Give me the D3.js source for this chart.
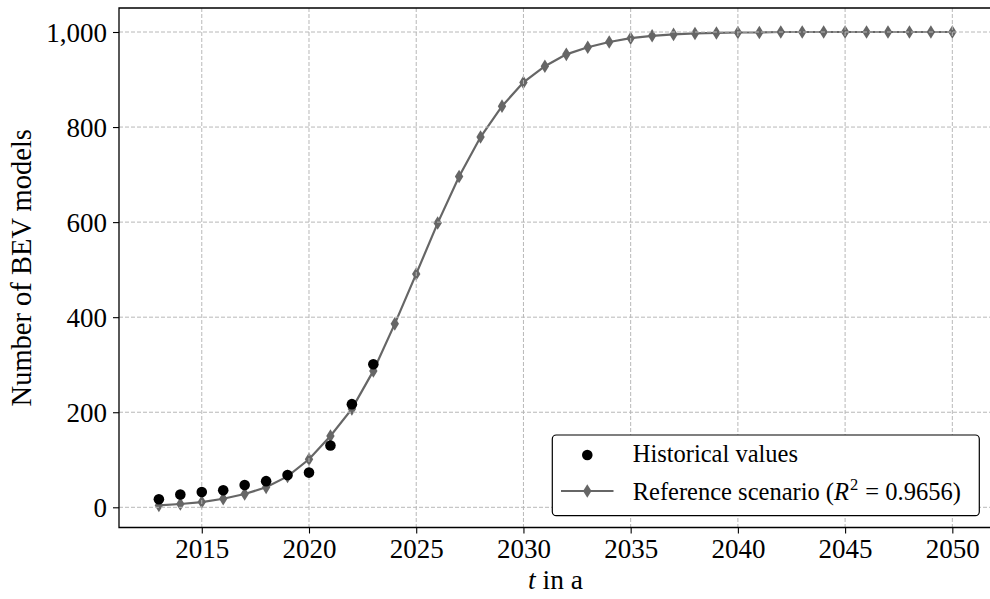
<!DOCTYPE html>
<html>
<head>
<meta charset="utf-8">
<script src="https://cdn.jsdelivr.net/npm/d3@7"></script>
<style>
  html, body { margin: 0; padding: 0; background: #fff; }
  svg { display: block; }
  text { font-family: "Liberation Serif", "Times New Roman", serif; fill: #000; white-space: pre; }
</style>
</head>
<body>
<svg id="chart" width="990" height="599"></svg>
<script>
// Historical BEV model counts
const histYears = [2013, 2014, 2015, 2016, 2017, 2018, 2019, 2020, 2021, 2022, 2023];
const histValues = [17, 27, 32, 36, 47, 55, 68, 73, 130, 217, 301];

// Reference scenario (fitted diffusion curve)
const refYears = [2013, 2014, 2015, 2016, 2017, 2018, 2019, 2020, 2021, 2022,
                  2023, 2024, 2025, 2026, 2027, 2028, 2029, 2030, 2031, 2032,
                  2033, 2034, 2035, 2036, 2037, 2038, 2039, 2040, 2041, 2042,
                  2043, 2044, 2045, 2046, 2047, 2048, 2049, 2050];
const refValues = [4, 7, 11, 18, 28, 42, 65, 101, 150, 207,
                   287, 386, 491, 598, 696, 779, 844, 894, 928, 953,
                   968, 979, 987, 992, 995, 997, 998, 999, 999, 1000,
                   1000, 1000, 1000, 1000, 1000, 1000, 1000, 1000];

const xTicks = [2015, 2020, 2025, 2030, 2035, 2040, 2045, 2050];
const yTicks = [0, 200, 400, 600, 800, 1000];

const legendLabels = ["Historical values", "Reference scenario"];
const rSquared = "0.9656";

const svg = d3.select("#chart");
const plotLeft = 119, plotRight = 992, plotTop = 8, plotBottom = 527.5;

const x = d3.scaleLinear().domain([2011.14, 2051.85]).range([plotLeft, plotRight]);
const y = d3.scaleLinear().domain([-42.5, 1050.5]).range([plotBottom, plotTop]);

const refColor = "#666666";
const gridColor = "#b8b8b8";

svg.append("defs").append("clipPath").attr("id", "clip")
  .append("rect").attr("x", plotLeft).attr("y", plotTop)
  .attr("width", plotRight - plotLeft).attr("height", plotBottom - plotTop);

const plot = svg.append("g");

// Reference scenario line
const line = d3.line().x((d, i) => x(refYears[i])).y(d => y(d));
plot.append("path")
  .datum(refValues)
  .attr("d", line)
  .attr("fill", "none")
  .attr("stroke", refColor)
  .attr("stroke-width", 2.2);

// thin diamond marker
const diamond = (w, h) => `M0,${-h}L${w},0L0,${h}L${-w},0Z`;
plot.selectAll(".ref-pt")
  .data(refValues)
  .join("path")
  .attr("class", "ref-pt")
  .attr("transform", (d, i) => `translate(${x(refYears[i])},${y(d)})`)
  .attr("d", diamond(4.2, 6.8))
  .attr("fill", refColor);

// grid
const grid = svg.append("g").attr("clip-path", "url(#clip)")
  .attr("stroke", gridColor).attr("stroke-width", 1).attr("stroke-dasharray", "4,2");
grid.selectAll(".gx").data(xTicks).join("line")
  .attr("x1", d => x(d)).attr("x2", d => x(d)).attr("y1", plotTop).attr("y2", plotBottom);
grid.selectAll(".gy").data(yTicks).join("line")
  .attr("x1", plotLeft).attr("x2", plotRight).attr("y1", d => y(d)).attr("y2", d => y(d));

// historical points, drawn above the grid
const histLayer = svg.append("g");
histLayer.selectAll(".hist-pt")
  .data(histValues)
  .join("circle")
  .attr("class", "hist-pt")
  .attr("cx", (d, i) => x(histYears[i]))
  .attr("cy", d => y(d))
  .attr("r", 5.3)
  .attr("fill", "#000");

// axes
const xAxis = d3.axisBottom(x).tickValues(xTicks).tickSize(6).tickPadding(5).tickFormat(d3.format("d"));
const yAxis = d3.axisLeft(y).tickValues(yTicks).tickSize(6).tickPadding(6).tickFormat(d3.format(","));

const gx = svg.append("g").attr("transform", `translate(0,${plotBottom})`).call(xAxis);
const gy = svg.append("g").attr("transform", `translate(${plotLeft},0)`).call(yAxis);
[gx, gy].forEach(g => {
  g.select(".domain").remove();
  g.selectAll(".tick line").attr("stroke", "#000").attr("stroke-width", 1.1);
  g.selectAll(".tick text").attr("font-size", 27).attr("font-family", "Liberation Serif, serif");
});
gx.selectAll(".tick text").attr("dy", "0.74em");
gy.selectAll(".tick text").attr("dy", "0.34em");

// spines (left, bottom, top)
svg.append("path")
  .attr("d", `M${plotRight},${plotTop}H${plotLeft}V${plotBottom}H${plotRight}`)
  .attr("fill", "none").attr("stroke", "#000").attr("stroke-width", 1.3);

// axis titles
const xt = svg.append("text")
  .attr("x", (plotLeft + plotRight) / 2).attr("y", 589)
  .attr("text-anchor", "middle").attr("font-size", 27.5);
xt.append("tspan").attr("font-style", "italic").text("t");
xt.append("tspan").text(" in a");

svg.append("text")
  .attr("transform", `translate(31,${(plotTop + plotBottom) / 2}) rotate(-90)`)
  .attr("text-anchor", "middle").attr("font-size", 28.5)
  .text("Number of BEV models");

// legend
const lg = svg.append("g");
lg.append("rect")
  .attr("x", 552.3).attr("y", 435).attr("width", 427).attr("height", 80.7)
  .attr("rx", 4).attr("fill", "#fff").attr("stroke", "#000").attr("stroke-width", 1.2);
lg.append("circle").attr("cx", 587.3).attr("cy", 455).attr("r", 5.3).attr("fill", "#000");
lg.append("text").attr("x", 632.7).attr("y", 462).attr("font-size", 24.5).text(legendLabels[0]);
lg.append("line").attr("x1", 561).attr("x2", 613.5).attr("y1", 491).attr("y2", 491)
  .attr("stroke", refColor).attr("stroke-width", 2.2);
lg.append("path").attr("transform", "translate(587.3,491)").attr("d", diamond(4.2, 6.8)).attr("fill", refColor);
const lt = lg.append("text").attr("x", 632.7).attr("y", 500).attr("font-size", 24.5);
lt.append("tspan").text(legendLabels[1] + " (");
lt.append("tspan").attr("font-style", "italic").text("R");
lt.append("tspan").attr("font-size", 16.5).attr("dy", -10).attr("dx", 1).text("2");
lt.append("tspan").attr("dy", 10).attr("dx", 1).text(" = " + rSquared + ")");
</script>
</body>
</html>
